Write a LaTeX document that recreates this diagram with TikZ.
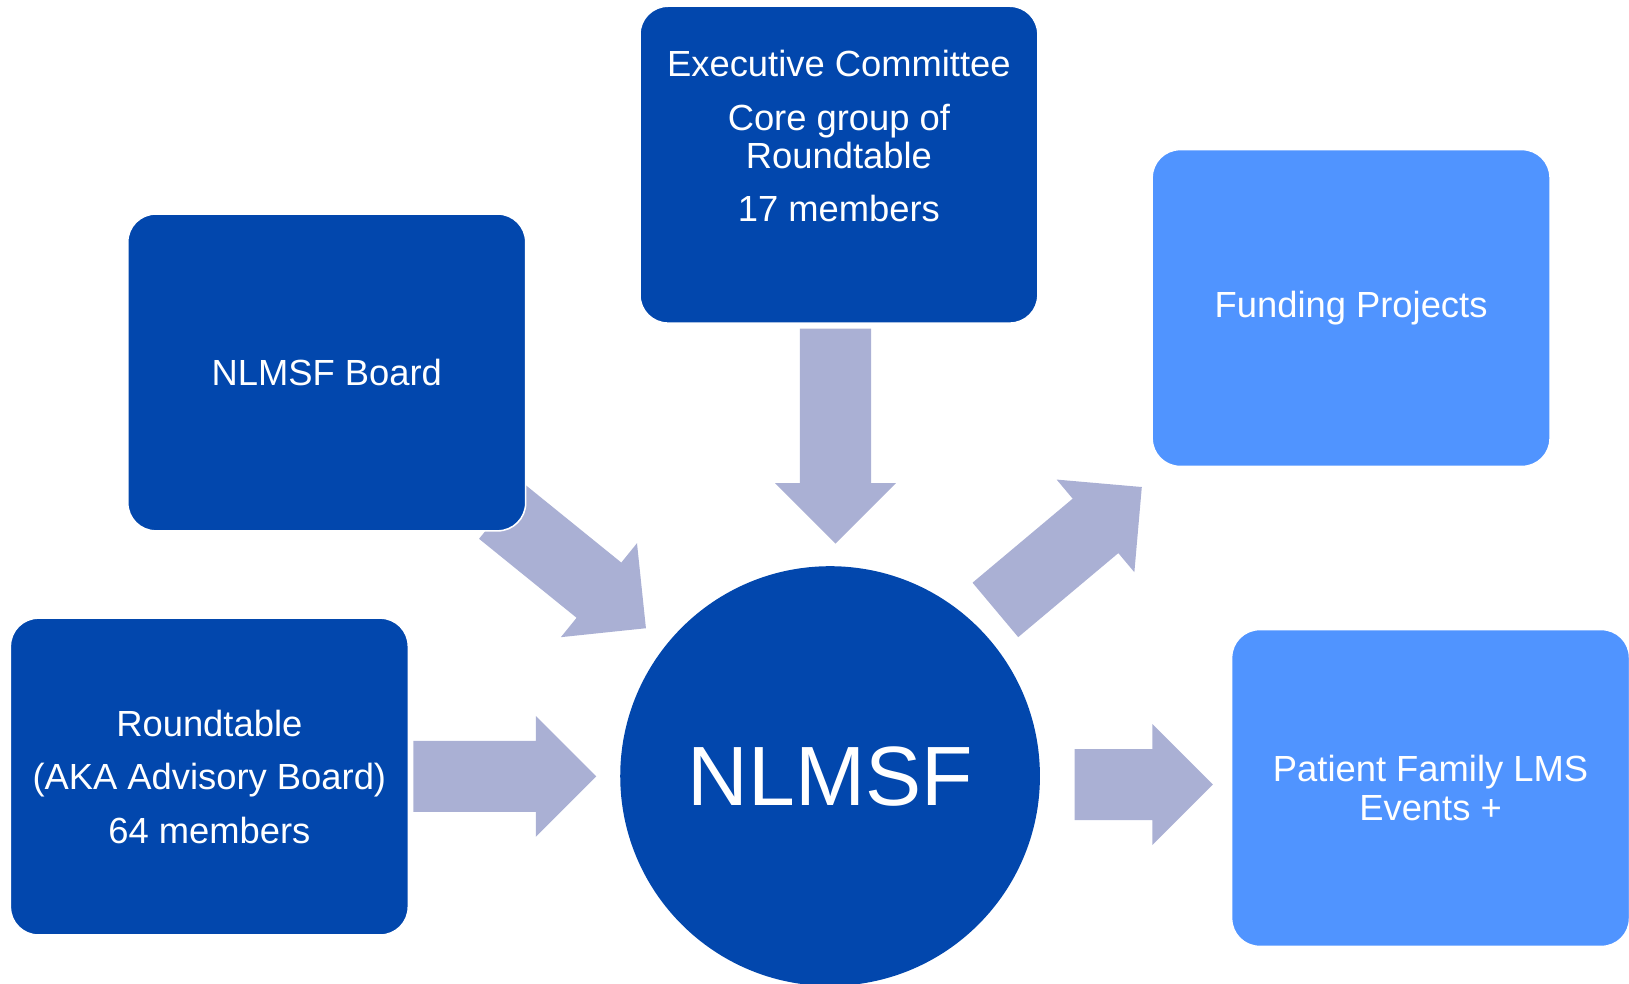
\documentclass[tikz,border=0pt]{standalone}
\usepackage{fontspec}
\setmainfont{Liberation Sans}
\usetikzlibrary{calc,shapes.arrows,backgrounds}
\definecolor{darkbox}{RGB}{2,71,173}
\definecolor{lightbox}{RGB}{80,148,255}
\definecolor{arrowfill}{RGB}{170,176,212}

\begin{document}
\begin{tikzpicture}[x=1pt,y=1pt,
   box/.style={
       rectangle, rounded corners=27pt, fill=#1, draw=white, line width=1.5pt,
       minimum width=383pt, minimum height=305pt, inner sep=0pt,
       text=white, align=center, font=\fontsize{35}{37}\selectfont
     },
   box/.default=darkbox,
   txt/.style={text=white, align=center, font=\fontsize{35}{37}\selectfont},
   bigarrow/.style={
       single arrow, fill=arrowfill, draw=none,
       inner xsep=0pt, inner ysep=34pt, text height=0pt, text depth=0pt,
       minimum width=116pt, single arrow head extend=24pt,
       single arrow tip angle=90, single arrow head indent=0pt,
       minimum height=#1
     }
  ]
  \useasboundingbox (0,0) rectangle (1568,947);
  % centre circle
  \node [circle, fill=darkbox, minimum size=404pt, inner sep=0pt, text=white,
         font=\fontsize{81}{81}\selectfont] (hub) at (799,200) {NLMSF};
  % boxes
  \node [box] (rt) at (201.5,199.5) {Roundtable\\[14.5pt](AKA Advisory Board)\\[14.5pt]64 members};
  \node [box] (board) at (314.5,588.5) {NLMSF Board};
  \node [box] (exec) at (807.5,788.5) {};
  \node [txt] (exec-t) at ([yshift=27.5pt]exec.center)
        {Executive Committee\\[15pt]Core group of\\Roundtable\\[14pt]17 members};
  \node [box=lightbox] (fund) at (1300.5,650.5) {Funding Projects};
  \node [box=lightbox] (fam) at (1377,188.5) {Patient Family LMS\\Events +};
  % arrows
  \begin{pgfonlayer}{background}
  \node [bigarrow=176pt] (a-rt) at ($(rt.east)!.37!(hub.west)$) {};
  \node [bigarrow=133pt] (a-fam) at ($(hub.east)!.45!(fam.west)+(0,-3)$) {};
  \node [bigarrow=207pt, rotate=-90] (a-exec) at ($(exec.south)!.39!(hub.north)$) {};
  \node [bigarrow=179pt, rotate=-39] (a-board) at ($(board.south east)!.11!(hub.center)$) {};
  \node [bigarrow=184pt, rotate=40] (a-fund) at ($(hub.center)!.70!(fund.south west)$) {};
  \end{pgfonlayer}
\end{tikzpicture}
\end{document}
